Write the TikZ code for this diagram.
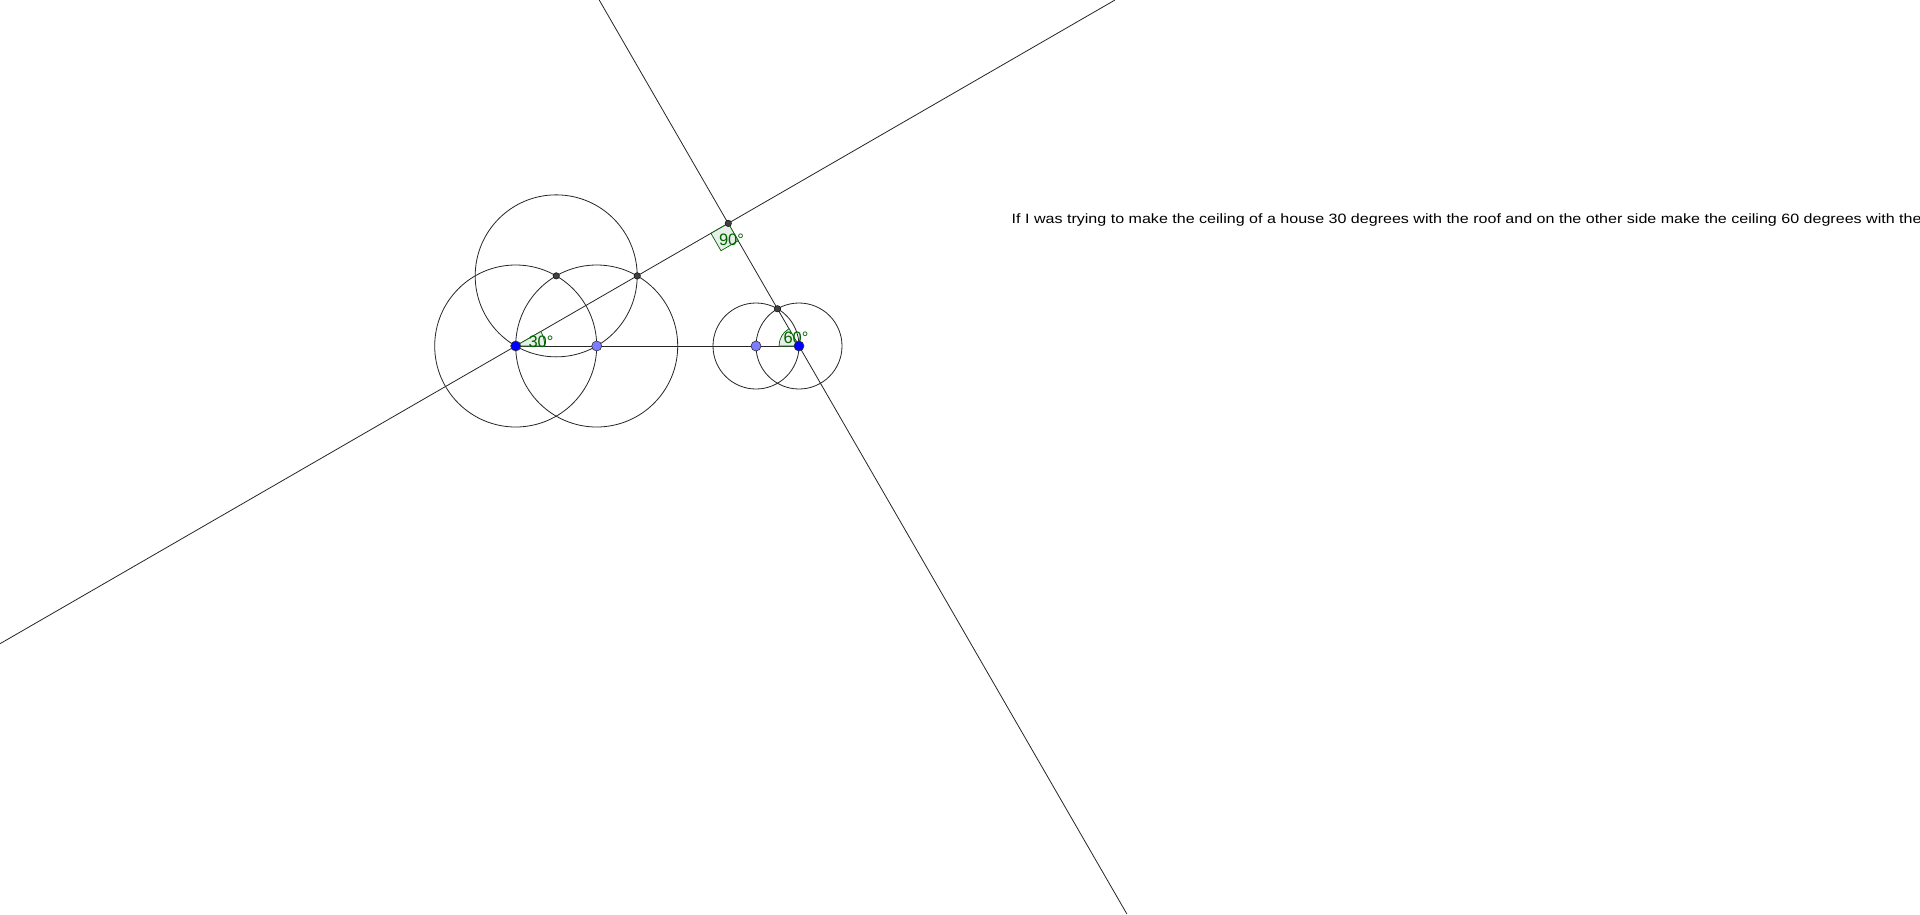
\documentclass[tikz,border=0pt]{standalone}
\usepackage{fontspec}
\setmainfont{Liberation Sans}
\usepackage{xcolor}
\usepackage{tikz}
\usetikzlibrary{calc}

\definecolor{ptblue}{RGB}{0,0,255}
\definecolor{ptlight}{RGB}{125,125,255}
\definecolor{ptdark}{RGB}{64,64,64}
\definecolor{anggreen}{RGB}{0,100,0}
\definecolor{angfill}{RGB}{232,238,232}

\begin{document}
\begin{tikzpicture}[x=1pt,y=1pt,
    geo/.style={line width=0.8pt,black!85},
    angmark/.style={fill=angfill,draw=anggreen,line width=0.7pt},
    anglabel/.style={text=anggreen,font=\fontsize{16.5}{18}\selectfont,inner sep=0pt},
    bigpt/.style={circle,draw=black!80,line width=0.6pt,minimum size=10pt,inner sep=0pt},
    smallpt/.style={circle,fill=ptdark,draw=black,line width=0.4pt,minimum size=6.5pt,inner sep=0pt}]
    \useasboundingbox (0,0) rectangle (1920,-914);
    \fill[white] (0,0) rectangle (1920,-914);
    \coordinate (A) at (515.7,-346);
    \coordinate (B) at (596.7,-346);
    \coordinate (C) at ($(A)+(60:81)$);
    \coordinate (P) at ($(A)+(30:140.3)$);
    \coordinate (E) at (756,-346);
    \coordinate (D) at (799,-346);
    \coordinate (F) at ($(D)+(120:43)$);
    \coordinate (G) at (intersection of A--P and D--F);
    \coordinate (roofLa) at (0,-643.7);
    \coordinate (roofLb) at (1115,0);
    \coordinate (roofRa) at (599.2,0);
    \coordinate (roofRb) at (1126.9,-914);
    \draw[geo] (A) circle (81pt);
    \draw[geo] (B) circle (81pt);
    \draw[geo] (C) circle (81pt);
    \draw[geo] (E) circle (43pt);
    \draw[geo] (D) circle (43pt);
    \draw[geo] (roofLa) -- (roofLb);
    \draw[geo] (roofRa) -- (roofRb);
    \draw[geo] (A) -- (D);
    \draw[angmark] (A) -- ++(0:29) arc (0:30:29) -- cycle;
    \draw[angmark] (D) -- ++(120:20) arc (120:180:20) -- cycle;
    \draw[angmark] (G) -- ++(210:20) -- ++(-60:20) -- ++(30:20) -- cycle;
    \node[anglabel] (lab30) at (541,-341.5) {30°};
    \node[anglabel] (lab60) at (796,-338) {60°};
    \node[anglabel] (lab90) at (731.5,-240) {90°};
    \node[bigpt,fill=ptblue] (ptA) at (A) {};
    \node[bigpt,fill=ptlight] (ptB) at (B) {};
    \node[bigpt,fill=ptlight] (ptE) at (E) {};
    \node[bigpt,fill=ptblue] (ptD) at (D) {};
    \node[smallpt] (ptC) at (C) {};
    \node[smallpt] (ptP) at (P) {};
    \node[smallpt] (ptF) at (F) {};
    \node[smallpt] (ptG) at (G) {};
    \node[anchor=west,inner sep=0pt,font=\fontsize{13.5}{15}\selectfont] (note) at (1011.5,-220.5)
        {\scalebox{1.19}[1]{If I was trying to make the ceiling of a house 30 degrees with the roof and on the other side make the ceiling 60 degrees with the}};
\end{tikzpicture}
\end{document}
